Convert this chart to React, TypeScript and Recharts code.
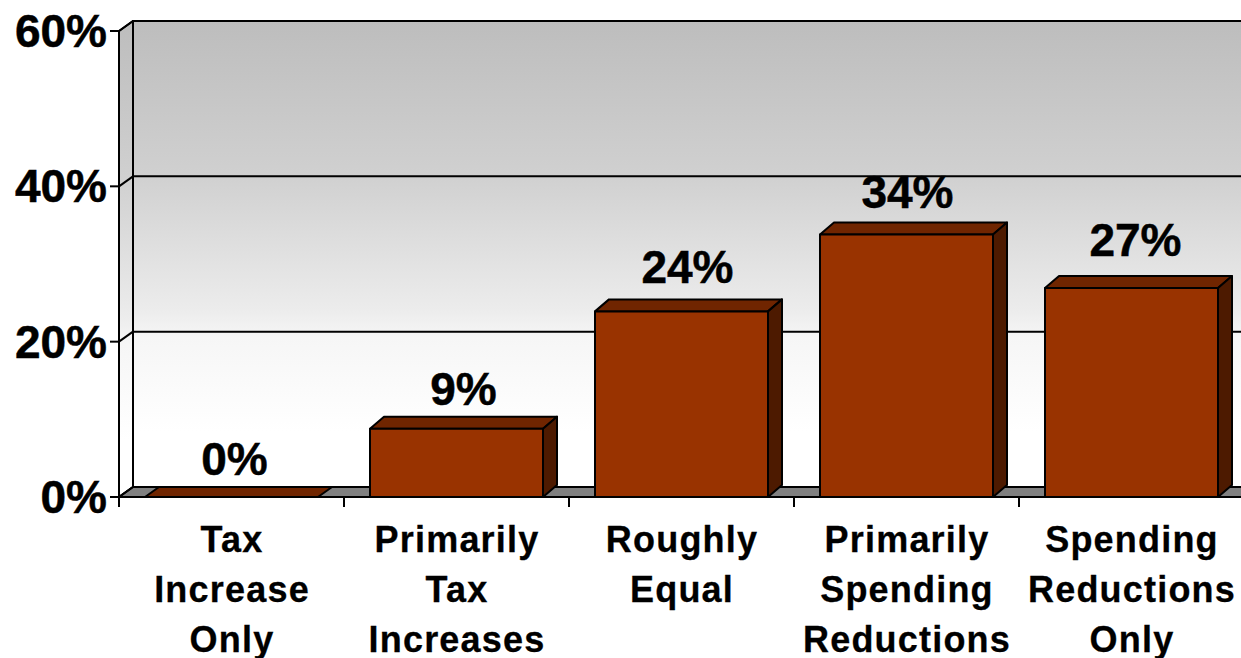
import React from "react";
import { BarChart, Bar, XAxis, YAxis, ReferenceArea, LabelList } from "recharts";

const categories = ["Tax Increase Only", "Primarily Tax Increases", "Roughly Equal", "Primarily Spending Reductions", "Spending Reductions Only"];
const categoryLines = [
  ["Tax", "Increase", "Only"],
  ["Primarily", "Tax", "Increases"],
  ["Roughly", "Equal"],
  ["Primarily", "Spending", "Reductions"],
  ["Spending", "Reductions", "Only"],
];
const values = [0, 8.8, 23.9, 33.8, 26.9];
const valueLabels = ["0%", "9%", "24%", "34%", "27%"];
const yTicks = [0, 20, 40, 60];

const rows = categories.map((name, i) => ({ name, value: values[i], label: valueLabels[i] }));

const DX = 14;
const WALL_DY = 10;
const BAR_DY = 12;
const BAND = 225;
const FONT = "'Liberation Sans', Arial, sans-serif";
const LABEL_GAP = [22, 24, 28, 26, 32];
const LABEL_SHIFT = [2, 6, 5, 0, 3];

function Wall(props: any) {
  const { x, y, width, height } = props;
  const bottom = y + height;
  const right = x + width;
  const gy = (t: number) => bottom - (height * t) / 60;
  return (
    <g>
      <defs>
        <linearGradient id="wallFill" x1="0" y1="0" x2="0" y2="1">
          <stop offset="0" stopColor="#bdbdbd" />
          <stop offset="0.33" stopColor="#d0d0d0" />
          <stop offset="0.62" stopColor="#ececec" />
          <stop offset="0.68" stopColor="#f6f6f6" />
          <stop offset="0.88" stopColor="#ffffff" />
          <stop offset="1" stopColor="#ffffff" />
        </linearGradient>
      </defs>
      <polygon points={`${x},${y} ${x + DX},${y - WALL_DY} ${x + DX},${bottom - WALL_DY} ${x},${bottom}`} fill="url(#wallFill)" stroke="#000" strokeWidth={2} strokeLinejoin="round" />
      <rect x={x + DX} y={y - WALL_DY} width={width} height={height} fill="url(#wallFill)" stroke="#000" strokeWidth={2} />
      <polygon points={`${x},${bottom} ${x + DX},${bottom - WALL_DY} ${right + DX},${bottom - WALL_DY} ${right},${bottom}`} fill="#808080" stroke="#000" strokeWidth={2} />
      {yTicks.map((t) => (
        <g key={t}>
          <line x1={x} y1={gy(t)} x2={x + DX} y2={gy(t) - WALL_DY} stroke="#000" strokeWidth={2} />
          <line x1={x + DX} y1={gy(t) - WALL_DY} x2={right + DX} y2={gy(t) - WALL_DY} stroke="#000" strokeWidth={2} />
        </g>
      ))}
    </g>
  );
}

function Bar3D(props: any) {
  const { x, y, width, height } = props;
  const r = x + width;
  const b = y + height;
  const dy = height > 0 ? BAR_DY : WALL_DY;
  return (
    <g stroke="#000" strokeWidth={2} strokeLinejoin="round">
      <polygon points={`${x},${y} ${x + DX},${y - dy} ${r + DX},${y - dy} ${r},${y}`} fill="#702500" />
      {height > 0 && <polygon points={`${r},${y} ${r + DX},${y - dy} ${r + DX},${b - dy} ${r},${b}`} fill="#4d1a00" />}
      {height > 0 && <rect x={x} y={y} width={width} height={height} fill="#993300" />}
    </g>
  );
}

function XTick(props: any) {
  const { x, y, index } = props;
  const lines = categoryLines[index] || [];
  const left = x - BAND / 2;
  return (
    <g>
      <line x1={left} y1={y - 8} x2={left} y2={y + 2} stroke="#000" strokeWidth={2} />
      {lines.map((t: string, i: number) => (
        <text key={t} x={x + 0.5} y={y + 47 + i * 50} textAnchor="middle" fontFamily={FONT} fontWeight={700} fontSize={36} letterSpacing={1.2} stroke="#000" strokeWidth={0.3} fill="#000">
          {t}
        </text>
      ))}
    </g>
  );
}

function YTick(props: any) {
  const { x, y, payload } = props;
  return (
    <g>
      <line x1={x - 9} y1={y} x2={x} y2={y} stroke="#000" strokeWidth={2} />
      <text x={x - 12} y={y + 16} textAnchor="end" fontFamily={FONT} fontWeight={700} fontSize={46} stroke="#000" strokeWidth={0.5} fill="#000">
        {payload.value}%
      </text>
    </g>
  );
}

function ValueLabel(props: any) {
  const { x, y, width, index, value } = props;
  return (
    <text x={x + width / 2 + 1 + LABEL_SHIFT[index]} y={y - LABEL_GAP[index]} textAnchor="middle" fontFamily={FONT} fontWeight={700} fontSize={46} stroke="#000" strokeWidth={0.5} fill="#000">
      {value}
    </text>
  );
}

export default function App() {
  return (
    <div style={{ position: "absolute", left: 0, top: 0, width: 1241, height: 658, overflow: "hidden", background: "#fff" }}>
      <BarChart width={1244} height={658} data={rows} margin={{ top: 31, right: 0, bottom: 0, left: 0 }} barSize={173}>
        <XAxis dataKey="name" height={161} axisLine={false} tickLine={false} tick={<XTick />} interval={0} />
        <YAxis width={119} domain={[0, 60]} ticks={yTicks} axisLine={false} tickLine={false} tickSize={0} tickMargin={0} tick={<YTick />} interval={0} />
        <ReferenceArea y1={0} y2={60} shape={<Wall />} ifOverflow="visible" />
        <Bar dataKey="value" shape={<Bar3D />} isAnimationActive={false}>
          <LabelList dataKey="label" content={<ValueLabel />} />
        </Bar>
      </BarChart>
    </div>
  );
}
